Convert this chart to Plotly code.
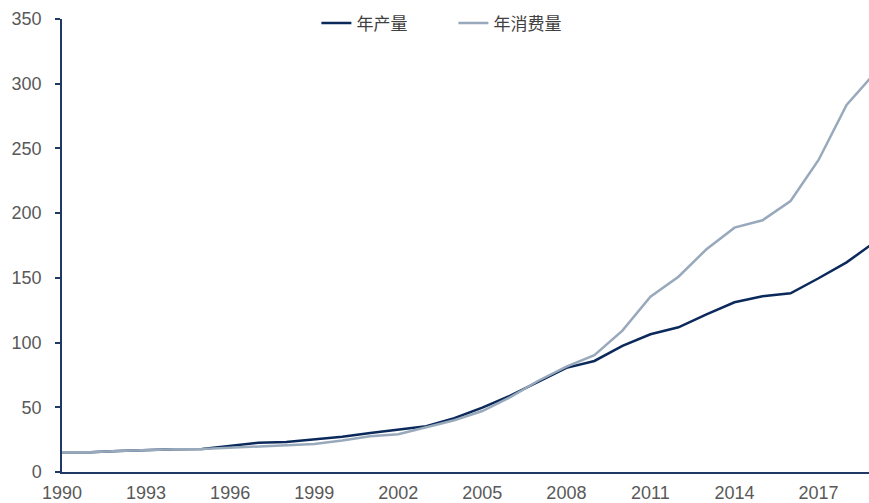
import plotly.graph_objects as go

years = list(range(1990, 2020))
production = [15.2, 15.3, 16.2, 17.0, 17.6, 17.8, 20.0, 22.6, 23.2, 25.3,
              27.3, 30.2, 32.6, 35.3, 41.5, 49.7, 59.0, 69.5, 80.5, 85.8,
              97.4, 106.4, 111.8, 121.8, 131.1, 135.8, 138.1, 149.7, 162.0, 177.5]
consumption = [15.2, 15.3, 16.2, 17.0, 17.6, 17.8, 18.8, 19.8, 20.6, 21.6,
               24.3, 27.6, 29.2, 34.5, 40.0, 47.1, 57.8, 70.5, 81.5, 90.2,
               109.2, 135.5, 150.9, 172.1, 188.8, 194.5, 209.4, 241.1, 283.6, 308.0]
x_ticks = list(range(1990, 2018, 3))
y_ticks = list(range(0, 351, 50))

fig = go.Figure()
fig.add_trace(go.Scatter(x=years, y=production, mode="lines", name="年产量",
                         line=dict(color="#0b2a5b", width=2.5)))
fig.add_trace(go.Scatter(x=years, y=consumption, mode="lines", name="年消费量",
                         line=dict(color="#98a9bc", width=2.5)))

axis_color = "#1f3864"
fig.update_layout(
    width=869, height=503,
    margin=dict(l=62, r=0, t=19, b=31),
    paper_bgcolor="white", plot_bgcolor="white",
    font=dict(family="Liberation Sans, Arial, sans-serif", size=18, color="#595959"),
    legend=dict(orientation="h", x=0.485, xanchor="center", y=0.99, yanchor="middle",
                font=dict(family="Noto Sans CJK SC", size=17, color="#404040"),
                bgcolor="rgba(0,0,0,0)", entrywidth=92, entrywidthmode="pixels"),
    showlegend=True,
)
fig.update_xaxes(range=[1990, 2018.8], tickvals=x_ticks, ticktext=[str(v) for v in x_ticks],
                 showgrid=False, zeroline=False, showline=True, linecolor=axis_color,
                 linewidth=1.5, ticks="", ticklabelstandoff=4,
                 tickfont=dict(size=18, color="#595959"))
fig.update_yaxes(range=[0, 350], tickvals=y_ticks, showgrid=False, zeroline=False,
                 showline=True, linecolor=axis_color, linewidth=1.5,
                 ticks="outside", ticklen=5, tickcolor=axis_color, tickwidth=1.5,
                 ticklabelstandoff=10,
                 tickfont=dict(size=18, color="#595959"))

fig.write_html("out.html")
